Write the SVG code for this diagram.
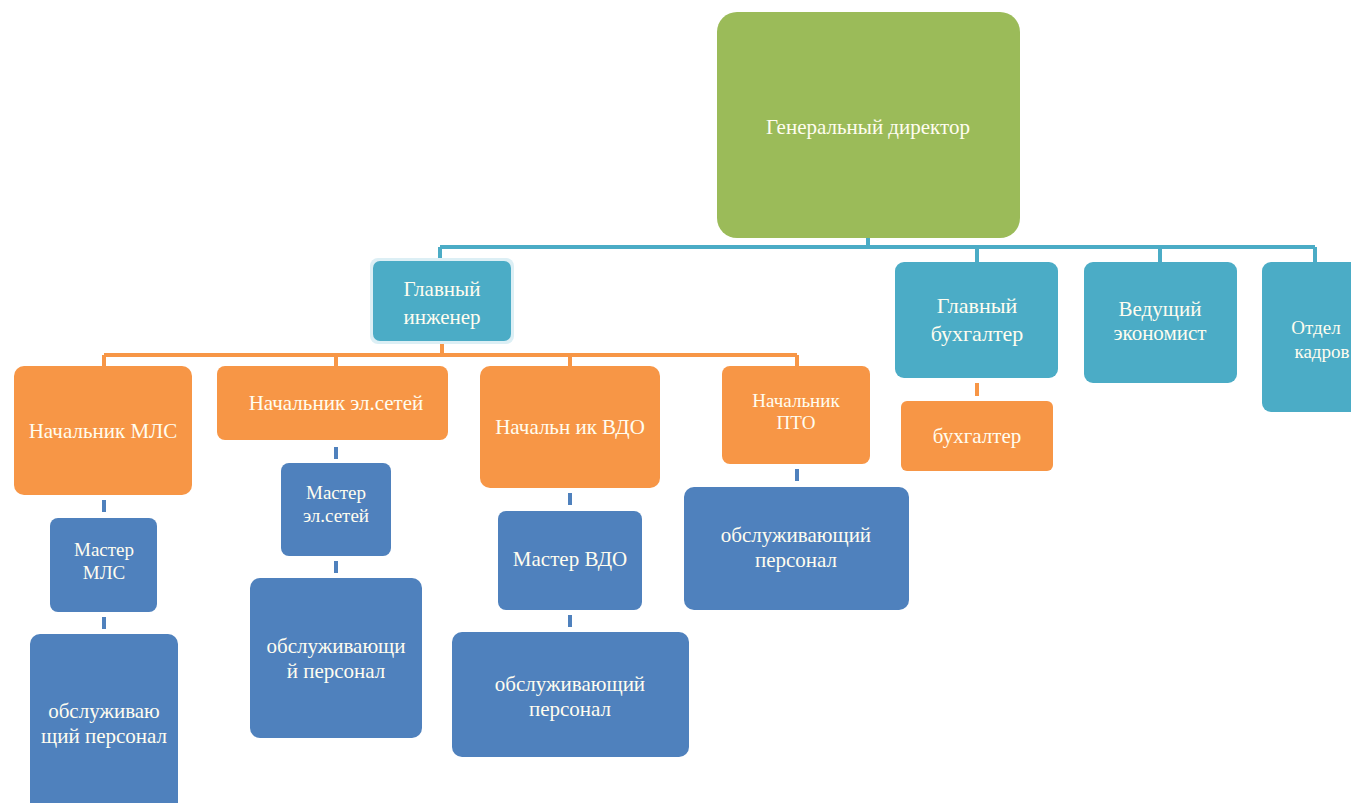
<svg xmlns="http://www.w3.org/2000/svg" width="1351" height="803" viewBox="0 0 1351 803">
<style>
.t{font-family:"Liberation Serif","DejaVu Serif","Times New Roman",serif;fill:#FFFDF0;text-anchor:middle;font-size:21px}
.s{font-size:19px}
.g{fill:#9BBB59}
.c{fill:#4BACC6}
.o{fill:#F79646}
.b{fill:#4F81BD}
.lc{stroke:#4BACC6;stroke-width:4;fill:none}
.lo{stroke:#F79646;stroke-width:4;fill:none}
.lb{stroke:#4F81BD;stroke-width:4;fill:none}
</style>
<rect width="1351" height="803" fill="#FFFFFF"/>
<g id="connectors">
<path class="lc" d="M868 238V247M440 247H1315M440 247V260M977 247V262M1160 247V262M1315 247V262"/>
<path class="lo" d="M442 342V355M104 355H797M104 355V366M336 355V366M570 355V366M797 355V366"/>
<path class="lo" d="M977 383V396"/>
<path class="lb" d="M104 500V512M104 617V629M336 447V459M336 561V573M570 493V505M570 615V627M797 469V481"/>
</g>
<g id="gen"><rect class="g" x="717" y="12" width="303" height="226" rx="20"/><text class="t" x="868" y="134">Генеральный директор</text></g>
<g id="glinzh"><rect x="370" y="258" width="144" height="86" rx="8" fill="#DCEFF5"/><rect class="c" x="373" y="261" width="138" height="80" rx="7"/><text class="t" x="442" y="296">Главный</text><text class="t" x="442" y="324">инженер</text></g>
<g id="glbuh"><rect class="c" x="895" y="262" width="163" height="116" rx="9"/><text class="t" x="977" y="313" style="font-size:22px">Главный</text><text class="t" x="977" y="341" style="font-size:22px">бухгалтер</text></g>
<g id="econ"><rect class="c" x="1084" y="262" width="153" height="121" rx="9"/><text class="t" x="1160" y="316">Ведущий</text><text class="t" x="1160" y="340">экономист</text></g>
<g id="kadry"><rect class="c" x="1262" y="262" width="110" height="150" rx="9"/><text class="t s" x="1316" y="334">Отдел</text><text class="t s" x="1322" y="358">кадров</text></g>
<g id="buh"><rect class="o" x="901" y="401" width="152" height="70" rx="6"/><text class="t" x="977" y="443">бухгалтер</text></g>
<g id="nmls"><rect class="o" x="14" y="366" width="178" height="129" rx="10"/><text class="t" x="103" y="438">Начальник МЛС</text></g>
<g id="nel"><rect class="o" x="217" y="366" width="231" height="74" rx="8"/><text class="t" x="336" y="410">Начальник эл.сетей</text></g>
<g id="nvdo"><rect class="o" x="480" y="366" width="180" height="122" rx="10"/><text class="t" x="570" y="434">Начальн ик ВДО</text></g>
<g id="npto"><rect class="o" x="722" y="366" width="148" height="98" rx="8"/><text class="t s" x="796" y="407">Начальник</text><text class="t s" x="796" y="429">ПТО</text></g>
<g id="mmls"><rect class="b" x="50" y="518" width="107" height="94" rx="8"/><text class="t s" x="104" y="556">Мастер</text><text class="t s" x="104" y="579">МЛС</text></g>
<g id="pmls"><rect class="b" x="30" y="634" width="148" height="180" rx="10"/><text class="t" x="104" y="718">обслуживаю</text><text class="t" x="104" y="743">щий персонал</text></g>
<g id="mel"><rect class="b" x="281" y="463" width="110" height="93" rx="8"/><text class="t s" x="336" y="499">Мастер</text><text class="t s" x="336" y="522">эл.сетей</text></g>
<g id="pel"><rect class="b" x="250" y="578" width="172" height="160" rx="10"/><text class="t" x="336" y="653">обслуживающи</text><text class="t" x="336" y="678">й персонал</text></g>
<g id="mvdo"><rect class="b" x="498" y="511" width="144" height="99" rx="8"/><text class="t" x="570" y="566">Мастер ВДО</text></g>
<g id="pvdo"><rect class="b" x="452" y="632" width="237" height="125" rx="10"/><text class="t" x="570" y="691">обслуживающий</text><text class="t" x="570" y="716">персонал</text></g>
<g id="ppto"><rect class="b" x="684" y="487" width="225" height="123" rx="10"/><text class="t" x="796" y="542">обслуживающий</text><text class="t" x="796" y="567">персонал</text></g>
</svg>
